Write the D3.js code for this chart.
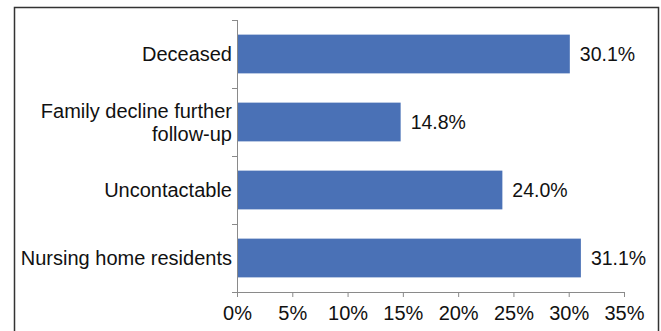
<!DOCTYPE html>
<html>
<head>
<meta charset="utf-8">
<script src="https://cdn.jsdelivr.net/npm/d3@7"></script>
<style>
  body { margin: 0; background: #fff; }
  svg { display: block; }
</style>
</head>
<body>
<script>
// categories top to bottom, values in percent
var categories = ["Deceased", "Family decline further follow-up", "Uncontactable", "Nursing home residents"];
var labelLines = [["Deceased"], ["Family decline further", "follow-up"], ["Uncontactable"], ["Nursing home residents"]];
var values = [30.1, 14.8, 24.0, 31.1];
var tickValues = [0, 5, 10, 15, 20, 25, 30, 35];

var W = 661, H = 331;
var plotLeft = 237, plotRight = 624, plotTop = 20, plotBottom = 292;
var font = "Liberation Sans, Arial, sans-serif";

var svg = d3.select("body").append("svg")
  .attr("width", W)
  .attr("height", H);

// outer frame
svg.append("rect")
  .attr("x", 14.5).attr("y", 7.5)
  .attr("width", 644).attr("height", 340)
  .attr("fill", "none")
  .attr("stroke", "#333")
  .attr("stroke-width", 1.5);

var x = d3.scaleLinear().domain([0, 35]).range([plotLeft, plotRight]);
var y = d3.scaleBand().domain(categories).range([plotTop, plotBottom]).paddingInner(0.43).paddingOuter(0.215);

// bars
svg.selectAll("rect.bar")
  .data(categories)
  .enter()
  .append("rect")
  .attr("class", "bar")
  .attr("x", x(0))
  .attr("y", function(d){ return y(d); })
  .attr("width", function(d, i){ return x(values[i]) - x(0); })
  .attr("height", y.bandwidth())
  .attr("fill", "#4a71b6");

// value labels
svg.selectAll("text.val")
  .data(categories)
  .enter()
  .append("text")
  .attr("class", "val")
  .attr("x", function(d, i){ return x(values[i]) + 10; })
  .attr("y", function(d){ return y(d) + y.bandwidth() / 2; })
  .attr("dy", "0.35em")
  .attr("font-family", font)
  .attr("font-size", "19.5px")
  .attr("fill", "#111")
  .text(function(d, i){ return values[i].toFixed(1) + "%"; });

// x axis
var xAxis = d3.axisBottom(x)
  .tickValues(tickValues)
  .tickSize(5)
  .tickFormat(function(d){ return d + "%"; });

var gx = svg.append("g")
  .attr("transform", "translate(0," + plotBottom + ")")
  .call(xAxis);
gx.select(".domain").attr("stroke", "#8a8a8a").attr("d", "M" + plotLeft + ",0.5H" + plotRight);
gx.selectAll(".tick line").attr("stroke", "#8a8a8a");
gx.selectAll(".tick text")
  .attr("font-family", font)
  .attr("font-size", "20px")
  .attr("fill", "#111")
  .attr("y", 14)
  .attr("dy", "0.71em");

// y axis line with boundary ticks
var yAxisG = svg.append("g");
yAxisG.append("line")
  .attr("x1", plotLeft + 0.5).attr("x2", plotLeft + 0.5)
  .attr("y1", plotTop).attr("y2", plotBottom)
  .attr("stroke", "#8a8a8a");
var bounds = categories.map(function(d){ return y(d) - y.step() * y.paddingInner() / 2; });
bounds.push(plotBottom);
yAxisG.selectAll("line.tk")
  .data(bounds)
  .enter()
  .append("line")
  .attr("class", "tk")
  .attr("x1", plotLeft - 5).attr("x2", plotLeft)
  .attr("y1", function(d){ return Math.round(d) + 0.5; })
  .attr("y2", function(d){ return Math.round(d) + 0.5; })
  .attr("stroke", "#8a8a8a");

// category labels
var cat = svg.selectAll("text.cat")
  .data(categories)
  .enter()
  .append("text")
  .attr("class", "cat")
  .attr("text-anchor", "end")
  .attr("font-family", font)
  .attr("font-size", "20px")
  .attr("fill", "#111")
  .attr("transform", function(d){ return "translate(" + (plotLeft - 5) + "," + (y(d) + y.bandwidth() / 2) + ")"; });

cat.each(function(d, i){
  var lines = labelLines[i];
  var el = d3.select(this);
  lines.forEach(function(l, j){
    el.append("tspan")
      .attr("x", 0)
      .attr("y", (j - (lines.length - 1) / 2) * 23)
      .attr("dy", "0.35em")
      .text(l);
  });
});
</script>
</body>
</html>
